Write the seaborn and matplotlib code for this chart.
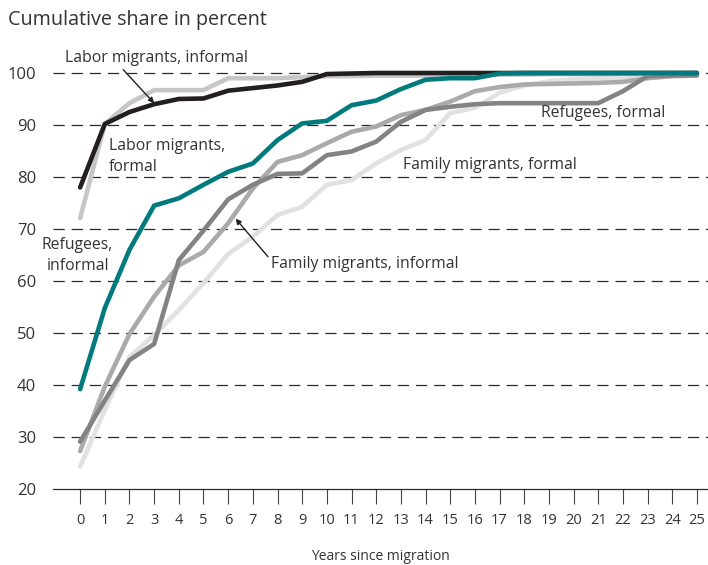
import numpy as np
import pandas as pd
import matplotlib
matplotlib.use("Agg")
import matplotlib.pyplot as plt
import seaborn as sns

years = list(range(26))

labor_informal = [78, 90.2, 92.5, 94.0, 95.0, 95.1, 96.6, 97.1, 97.6, 98.3, 99.8, 99.9,
                  100, 100, 100, 100, 100, 100, 100, 100, 100, 100, 100, 100, 100, 100]
labor_formal = [72.1, 90.2, 94.2, 96.7, 96.7, 96.7, 99.0, 99.0, 99.0, 99.2, 99.4, 99.4,
                99.5, 99.5, 99.5, 99.6, 99.6, 99.7, 99.7, 99.8, 99.8, 99.8, 99.9, 99.9, 100, 100]
refugees_informal = [39.2, 54.8, 66.0, 74.5, 75.9, 78.5, 81.0, 82.6, 87.1, 90.3, 90.8, 93.8,
                     94.7, 96.9, 98.7, 99.0, 99.0, 99.9, 100, 100, 100, 100, 100, 100, 100, 100]
refugees_formal = [29.1, 37.0, 44.8, 47.9, 64.0, 69.7, 75.7, 78.5, 80.6, 80.7, 84.2, 84.9,
                   86.8, 90.6, 92.9, 93.5, 94.0, 94.2, 94.2, 94.2, 94.2, 94.2, 96.5, 99.4, 99.5, 99.6]
family_informal = [27.3, 39.7, 49.8, 57.0, 63.0, 65.6, 71.1, 77.8, 82.9, 84.2, 86.5, 88.7,
                   89.7, 91.9, 92.9, 94.5, 96.5, 97.3, 97.8, 97.9, 98.0, 98.1, 98.3, 99.0, 99.4, 99.5]
family_formal = [24.3, 35.2, 45.4, 49.6, 54.4, 59.6, 65.2, 68.5, 72.7, 74.3, 78.5, 79.4,
                 82.6, 85.2, 87.1, 92.3, 93.3, 96.2, 97.6, 98.4, 98.8, 99.0, 99.2, 99.5, 99.7, 100]

groups = {
    "Family migrants, formal": family_formal,
    "Family migrants, informal": family_informal,
    "Refugees, formal": refugees_formal,
    "Labor migrants, formal": labor_formal,
    "Labor migrants, informal": labor_informal,
    "Refugees, informal": refugees_informal,
}
colors = {
    "Family migrants, formal": "#e1e1e1",
    "Family migrants, informal": "#aaaaaa",
    "Refugees, formal": "#838383",
    "Labor migrants, formal": "#c6c6c6",
    "Labor migrants, informal": "#231f20",
    "Refugees, informal": "#007a7d",
}

df = pd.concat([pd.DataFrame({"year": years, "share": v, "group": k}) for k, v in groups.items()],
               ignore_index=True)

sns.set_style("white")
plt.rcParams["font.family"] = ["Open Sans", "DejaVu Sans"]

fig = plt.figure(figsize=(7.08, 5.65), dpi=100)
ax = fig.add_axes([53 / 708, (565 - 489) / 565, 1 - 53 / 708, 83 * 5.2 / 565])

# dashed grid lines
for v in range(30, 101, 10):
    ax.axhline(v, color="#2a2a2a", lw=0.9, dashes=(9, 5.5), zorder=0)

sns.lineplot(data=df, x="year", y="share", hue="group", hue_order=list(groups.keys()),
             palette=colors, linewidth=3.3, legend=False, ax=ax, solid_capstyle="round")

ax.set_xlim(-1.1, 25.45)
ax.set_ylim(20, 103)
for s in ["top", "right", "left"]:
    ax.spines[s].set_visible(False)
ax.spines["bottom"].set_color("#2a2a2a")
ax.spines["bottom"].set_linewidth(0.9)

ax.set_xticks(years)
ax.set_xticklabels([str(y) for y in years])
ax.set_yticks(range(20, 101, 10))
ax.tick_params(axis="x", direction="out", length=10.5, width=0.8, color="#444444",
               labelsize=10.5, pad=7, labelcolor="#333333", bottom=True)
ax.tick_params(axis="y", length=0, labelsize=12, pad=12, labelcolor="#333333")
ax.set_xlabel("Years since migration", fontsize=10, color="#333333", labelpad=15)
ax.set_ylabel("")

fig.text(8 / 708, 1 - 20 / 565, "Cumulative share in percent", fontsize=14.2, color="#333333",
         va="center", ha="left")

tc = "#333333"
fs = 11.3
ax.annotate("Labor migrants, informal", xy=(3.0, 94.2), xytext=(-0.6, 102.8),
            fontsize=fs, color=tc, ha="left", va="center",
            arrowprops=dict(arrowstyle="-|>", color="#222222", lw=1, mutation_scale=8,
                            shrinkA=0, shrinkB=0, relpos=(0.3, 0.0)))
ax.text(1.15, 84.0, "Labor migrants,\nformal", fontsize=fs, color=tc, ha="left", va="center",
        linespacing=1.45)
ax.text(-0.1, 64.9, "Refugees,\ninformal", fontsize=fs, color=tc, ha="center", va="center",
        linespacing=1.45)
ax.annotate("Family migrants, informal", xy=(6.3, 72.0), xytext=(7.75, 63.3),
            fontsize=fs, color=tc, ha="left", va="center",
            arrowprops=dict(arrowstyle="-|>", color="#222222", lw=1, mutation_scale=8,
                            shrinkA=0, shrinkB=0, relpos=(0.0, 0.7)))
ax.text(13.1, 82.4, "Family migrants, formal", fontsize=fs, color=tc, ha="left", va="center")
ax.text(18.7, 92.3, "Refugees, formal", fontsize=fs, color=tc, ha="left", va="center")

fig.savefig("out.png", dpi=100)
